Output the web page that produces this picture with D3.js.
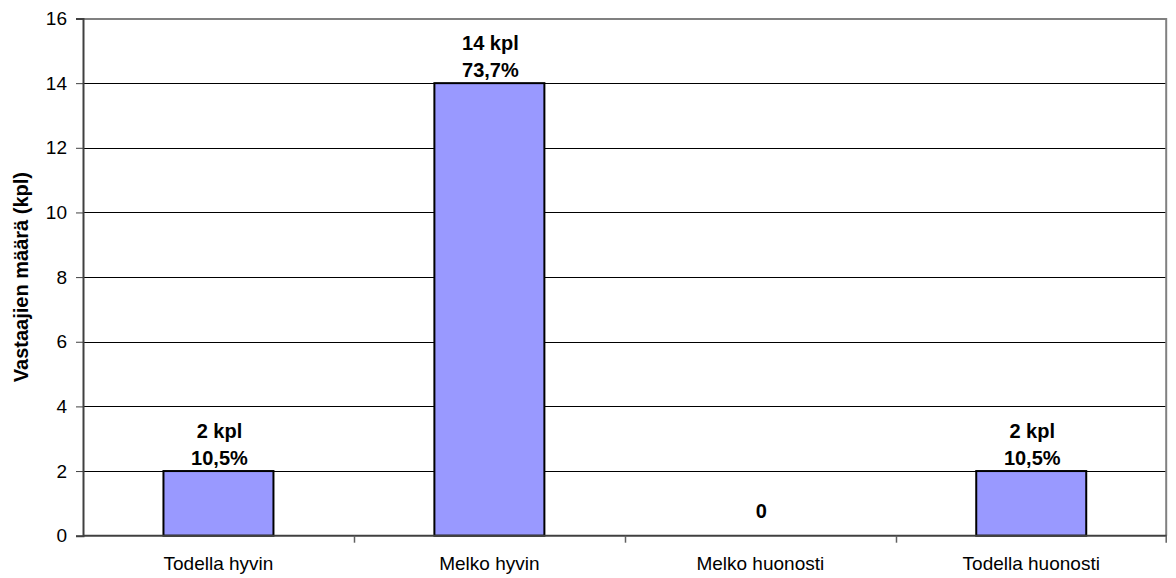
<!DOCTYPE html>
<html>
<head>
<meta charset="utf-8">
<script src="https://cdn.jsdelivr.net/npm/d3@7"></script>
<style>
  html, body { margin: 0; padding: 0; background: #fff; }
  svg { display: block; font-family: Arial, "Liberation Sans", sans-serif; }
</style>
</head>
<body>
<svg id="chart" width="1176" height="578"></svg>
<script>
// Survey answers: number of respondents per answer category
const categories = ["Todella hyvin", "Melko hyvin", "Melko huonosti", "Todella huonosti"];
const counts = [2, 14, 0, 2];
const barLabels = [["2 kpl", "10,5%"], ["14 kpl", "73,7%"], ["0"], ["2 kpl", "10,5%"]];
const yTicks = [0, 2, 4, 6, 8, 10, 12, 14, 16];
const yTitle = "Vastaajien määrä (kpl)";

const svg = d3.select("#chart");
const margin = { left: 83, right: 9.3, top: 18.5, bottom: 42.3 };
const W = 1176, H = 578;
const x0 = margin.left, x1 = W - margin.right;
const y0 = H - margin.bottom, y1 = margin.top;

const x = d3.scaleBand().domain(categories).range([x0, x1]).paddingInner(0.594).paddingOuter(0.297);
const xCat = d3.scaleBand().domain(categories).range([x0, x1]).padding(0);
const y = d3.scaleLinear().domain([0, 16]).range([y0, y1]);

// horizontal gridlines
svg.append("g").selectAll("line").data(yTicks.filter(t => t > 0 && t < 16)).join("line")
  .attr("x1", x0).attr("x2", x1)
  .attr("y1", d => Math.round(y(d)) + 0.5).attr("y2", d => Math.round(y(d)) + 0.5)
  .attr("stroke", "#000").attr("stroke-width", 1);

// plot frame (top and right)
svg.append("path")
  .attr("d", `M${x0},${y1 + 0.5}H${x1 - 0.5}V${y0}`)
  .attr("fill", "none").attr("stroke", "#808080").attr("stroke-width", 2);

// bars
svg.append("g").selectAll("rect").data(counts).join("rect")
  .attr("x", (d, i) => x(categories[i]))
  .attr("width", x.bandwidth())
  .attr("y", d => y(d))
  .attr("height", d => y0 - y(d))
  .attr("fill", "#9999FF")
  .attr("stroke", "#000").attr("stroke-width", 2)
  .style("display", d => d > 0 ? null : "none");

// y axis
const yAxis = d3.axisLeft(y).tickValues(yTicks).tickSize(7).tickPadding(9).tickFormat(d3.format("d"));
const gy = svg.append("g").attr("transform", `translate(${x0},0)`).call(yAxis);
gy.select(".domain").attr("stroke", "#404040").attr("stroke-width", 2);
gy.selectAll(".tick line").attr("stroke", "#404040").attr("stroke-width", 1);
gy.selectAll(".tick text").attr("font-size", 19).attr("fill", "#000")
  .attr("font-family", "Arial, 'Liberation Sans', sans-serif");

// x axis: ticks at category boundaries
const gx = svg.append("g").attr("transform", `translate(0,${y0})`);
gx.append("line").attr("x1", x0).attr("x2", x1).attr("y1", 0).attr("y2", 0)
  .attr("stroke", "#404040").attr("stroke-width", 2);
gx.selectAll("line.bt").data(categories.slice(1).concat([null])).join("line").attr("class", "bt")
  .attr("x1", d => d ? Math.round(xCat(d)) + 0.5 : x1 - 0.5)
  .attr("x2", d => d ? Math.round(xCat(d)) + 0.5 : x1 - 0.5)
  .attr("y1", 0).attr("y2", 7)
  .attr("stroke", "#606060").attr("stroke-width", 1.5);
gx.selectAll("text").data(categories).join("text")
  .attr("x", d => xCat(d) + xCat.bandwidth() / 2)
  .attr("y", 34.3)
  .attr("text-anchor", "middle").attr("font-size", 19).attr("fill", "#000")
  .text(d => d);

// value labels above bars
const lbl = svg.append("g").attr("font-size", 20).attr("font-weight", "bold")
  .attr("text-anchor", "middle").attr("fill", "#000");
barLabels.forEach((lines, i) => {
  const cx = x(categories[i]) + x.bandwidth() / 2 + 1;
  const base = counts[i] > 0 ? y(counts[i]) - 6.5 : y(0) - 17.7;
  lines.forEach((t, j) => {
    lbl.append("text")
      .attr("x", cx)
      .attr("y", base - (lines.length - 1 - j) * 27)
      .text(t);
  });
});

// y axis title
svg.append("text")
  .attr("transform", `translate(28,${(y0 + y1) / 2}) rotate(-90)`)
  .attr("text-anchor", "middle").attr("font-size", 20).attr("font-weight", "bold")
  .text(yTitle);
</script>
</body>
</html>
